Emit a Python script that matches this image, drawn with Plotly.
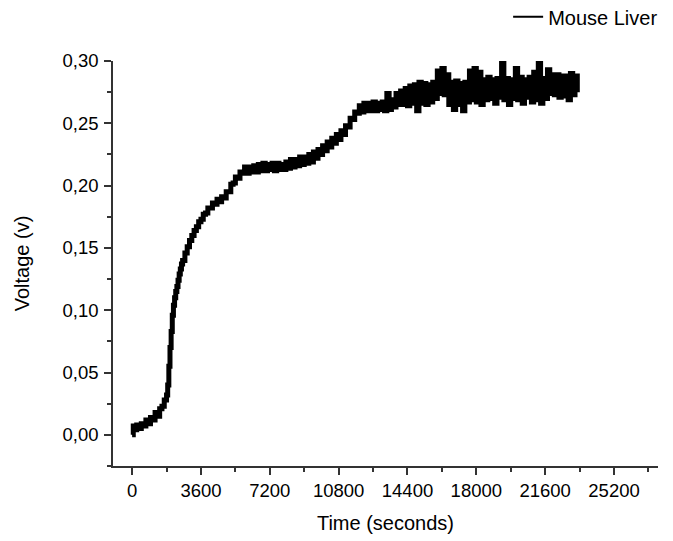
import plotly.graph_objects as go

# Time (s) and voltage (V)
time_s = [
    0, 60, 120, 240, 360, 480, 600, 720, 840, 960, 1080, 1200, 1320, 1440, 1560, 1680,
    1800, 1860, 1920, 1980, 2040, 2100, 2160, 2220, 2280, 2340, 2400, 2460, 2520, 2580,
    2640, 2760, 2880, 3000, 3120, 3240, 3360, 3480, 3600, 3720, 3840, 3960, 4080, 4200,
    4320, 4440, 4560, 4680, 4800, 4920, 5040, 5160, 5280, 5400, 5520, 5640, 5760,
    5880, 6000, 6120, 6240, 6360, 6480, 6600, 6720, 6840, 6960, 7080, 7200, 7320, 7440,
    7560, 7680, 7800, 7920, 8040, 8160, 8280, 8400, 8520, 8640, 8760, 8880, 9000, 9120,
    9240, 9360, 9480, 9600, 9720, 9840, 9960, 10080, 10200, 10320, 10440, 10560, 10680,
    10800, 10920, 11040, 11160, 11280, 11400, 11520, 11640, 11760, 11880, 12000, 12120,
    12240, 12360, 12480, 12600, 12720, 12840, 12960, 13080, 13200, 13320, 13440, 13560,
    13680, 13800, 13920, 14040, 14160, 14280, 14400, 14520, 14640, 14760, 14880, 15000,
    15120, 15240, 15360, 15480, 15600, 15720, 15840, 15960, 16080, 16200, 16320, 16440,
    16560, 16680, 16800, 16920, 17040, 17160, 17280, 17400, 17520, 17640, 17760, 17880,
    18000, 18120, 18240, 18360, 18480, 18600, 18720, 18840, 18960, 19080, 19200, 19320,
    19440, 19560, 19680, 19800, 19920, 20040, 20160, 20280, 20400, 20520, 20640, 20760,
    20880, 21000, 21120, 21240, 21360, 21480, 21600, 21720, 21840, 21960, 22080, 22200,
    22320, 22440, 22560, 22680, 22800, 22920, 23040, 23160, 23280,
]
voltage_v = [
    0.000, 0.007, 0.004, 0.008, 0.005, 0.009, 0.007, 0.012, 0.009, 0.014, 0.012, 0.018, 0.015, 0.021, 0.023, 0.028,
    0.032, 0.040, 0.055, 0.070, 0.083, 0.096, 0.104, 0.110, 0.115, 0.119, 0.124, 0.129, 0.133, 0.137,
    0.140, 0.146, 0.151, 0.156, 0.160, 0.164, 0.167, 0.171, 0.173, 0.177, 0.178, 0.182, 0.182, 0.186,
    0.185, 0.189, 0.187, 0.191, 0.190, 0.195, 0.195, 0.201, 0.202, 0.207, 0.206, 0.211, 0.210,
    0.215, 0.210, 0.215, 0.211, 0.216, 0.211, 0.217, 0.212, 0.218, 0.212, 0.217, 0.213, 0.218, 0.212,
    0.218, 0.213, 0.217, 0.213, 0.219, 0.214, 0.221, 0.215, 0.221, 0.216, 0.223, 0.217, 0.223, 0.218,
    0.225, 0.219, 0.227, 0.222, 0.229, 0.225, 0.232, 0.228, 0.235, 0.231, 0.238, 0.234, 0.241,
    0.237, 0.244, 0.241, 0.248, 0.247, 0.254, 0.253, 0.259, 0.258, 0.264, 0.259, 0.266,
    0.260, 0.266, 0.260, 0.267, 0.260, 0.266, 0.261, 0.267, 0.260, 0.274, 0.261, 0.269,
    0.263, 0.274, 0.265, 0.276, 0.265, 0.278, 0.264, 0.280, 0.266, 0.281, 0.260, 0.283,
    0.266, 0.282, 0.265, 0.281, 0.267, 0.283, 0.270, 0.292, 0.274, 0.294, 0.273, 0.289,
    0.265, 0.283, 0.261, 0.284, 0.265, 0.282, 0.260, 0.283, 0.267, 0.292, 0.269, 0.294,
    0.267, 0.291, 0.265, 0.285, 0.269, 0.287, 0.270, 0.285, 0.266, 0.286, 0.271, 0.298,
    0.269, 0.286, 0.265, 0.285, 0.270, 0.294, 0.269, 0.287, 0.266, 0.285, 0.271, 0.287,
    0.267, 0.291, 0.269, 0.298, 0.266, 0.286, 0.270, 0.293, 0.274, 0.289, 0.273, 0.289,
    0.271, 0.288, 0.272, 0.288, 0.269, 0.290, 0.273, 0.288, 0.275,
]

series_name = "Mouse Liver"
x_tick_vals = [0, 3600, 7200, 10800, 14400, 18000, 21600, 25200]
x_tick_text = ["0", "3600", "7200", "10800", "14400", "18000", "21600", "25200"]
y_tick_vals = [0.00, 0.05, 0.10, 0.15, 0.20, 0.25, 0.30]
y_tick_text = ["0,00", "0,05", "0,10", "0,15", "0,20", "0,25", "0,30"]

FONT = "Liberation Sans, Arial, sans-serif"
AX = "#333333"

fig = go.Figure()
fig.add_trace(go.Scatter(
    x=time_s, y=voltage_v, mode="lines", line=dict(color="black", width=5, shape="hv"),
    showlegend=False, name=series_name,
))
fig.add_trace(go.Scatter(
    x=[None], y=[None], mode="lines", line=dict(color="black", width=2),
    name=series_name, showlegend=True,
))

fig.update_layout(
    width=673, height=541,
    margin=dict(l=105, r=23, t=53, b=83, autoexpand=False),
    paper_bgcolor="white", plot_bgcolor="white",
    font=dict(family=FONT, size=18, color="black"),
    legend=dict(x=0.725, y=1.109, xanchor="left", yanchor="middle",
                font=dict(size=20, family=FONT), bgcolor="rgba(0,0,0,0)",
                borderwidth=0),
    xaxis=dict(
        range=[-1000, 27500], showline=True, linecolor=AX, linewidth=1.5,
        ticks="outside", ticklen=7, tickwidth=1.5, tickcolor=AX,
        tickmode="array", tickvals=x_tick_vals, ticktext=x_tick_text,
        minor=dict(ticks="outside", ticklen=4, tickwidth=1.5, tickcolor=AX,
                   dtick=1800, tick0=0, showgrid=False),
        showgrid=False, zeroline=False, automargin=False,
        tickfont=dict(size=18.5, family=FONT),
        title=dict(text="Time (seconds)", font=dict(size=20, family=FONT), standoff=16),
    ),
    yaxis=dict(
        range=[-0.025, 0.3], showline=True, linecolor=AX, linewidth=1.5,
        ticks="outside", ticklen=7, tickwidth=1.5, tickcolor=AX,
        tickmode="array", tickvals=y_tick_vals, ticktext=y_tick_text,
        ticklabelstandoff=2,
        minor=dict(ticks="outside", ticklen=4, tickwidth=1.5, tickcolor=AX,
                   dtick=0.025, tick0=0, showgrid=False),
        showgrid=False, zeroline=False, automargin=False,
        tickfont=dict(size=18.5, family=FONT),
        title=dict(text="Voltage (v)", font=dict(size=20, family=FONT), standoff=28),
    ),
)

fig.write_html("out.html")
